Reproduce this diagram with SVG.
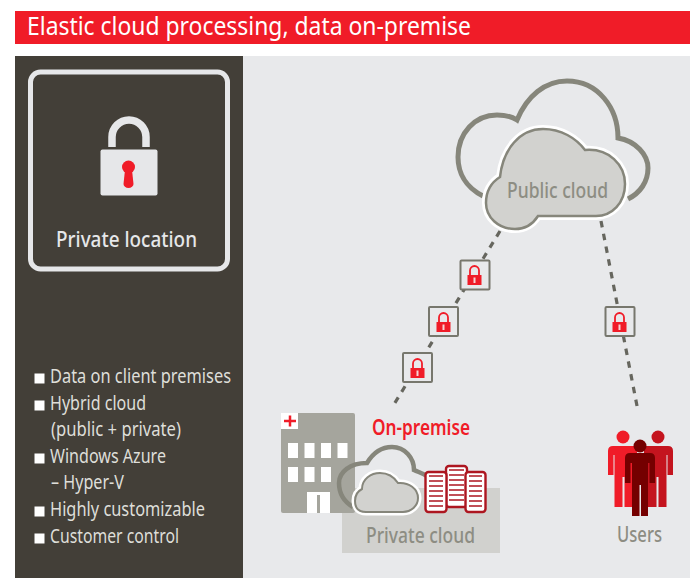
<svg xmlns="http://www.w3.org/2000/svg" width="690" height="578" viewBox="0 0 690 578">
<style>
text{font-family:"Noto Sans","Open Sans","Liberation Sans",sans-serif}
.li{font-size:19px;fill:#deded9}
.lab{font-size:22px;fill:#8d8d83;font-weight:500}
.dash{fill:none;stroke:#66665e;stroke-width:3.2;stroke-dasharray:6.500 6.500}
.box{fill:#e8e9eb;stroke:#77776d;stroke-width:2}
.red{fill:#f01c28}
.srv{fill:#fff;stroke:#ad1620;stroke-width:2.400}
.srvl{stroke:#ad1620;stroke-width:1.700}
.win{fill:#fff}
</style>
<defs>
<g id="lk">
<path d="M-4.500 0V-4.500a4.500 4.500 0 0 1 9 0V0" fill="none" stroke="#f01c28" stroke-width="1.800"/>
<rect x="-7" y="0" width="14" height="10" class="red"/>
<rect x="-1" y="2.500" width="2" height="5.500" fill="#f6d4d4"/>
</g>
</defs>
<rect width="690" height="578" fill="#fff"/>
<g id="title">
<rect x="15" y="11" width="675" height="33" fill="#f01c28"/>
<text x="27" y="35" font-size="26" fill="#fff" textLength="444" lengthAdjust="spacingAndGlyphs">Elastic cloud processing, data on-premise</text>
</g>
<rect x="243" y="56" width="447" height="522" fill="#e8e9eb"/>
<g id="panel">
<rect x="15" y="56" width="228" height="522" fill="#433f38"/>
<rect x="30.500" y="72" width="197" height="197" rx="10" fill="none" stroke="#e6e7e9" stroke-width="5"/>
<path d="M112 147V137a17 17 0 0 1 34 0V147" fill="none" stroke="#e6e7e9" stroke-width="7.500"/>
<rect x="100.500" y="149.500" width="57" height="46" rx="2" fill="#e6e7e9"/>
<circle cx="128.500" cy="167" r="6.500" class="red"/>
<path d="M125 170h7l1.500 14a5 4 0 0 1-10 0z" class="red"/>
<text x="56" y="247" font-size="22" font-weight="500" fill="#e6e7e9" textLength="141" lengthAdjust="spacingAndGlyphs">Private location</text>
</g>
<g id="list">
<g fill="#fff">
<rect x="34.500" y="373.500" width="10" height="10"/>
<rect x="34.500" y="400.500" width="10" height="10"/>
<rect x="34.500" y="453.500" width="10" height="10"/>
<rect x="34.500" y="506.500" width="10" height="10"/>
<rect x="34.500" y="533.500" width="10" height="10"/>
</g>
<text class="li" x="50" y="383" textLength="181" lengthAdjust="spacingAndGlyphs">Data on client premises</text>
<text class="li" x="50" y="410" textLength="96" lengthAdjust="spacingAndGlyphs">Hybrid cloud</text>
<text class="li" x="51" y="436" textLength="130" lengthAdjust="spacingAndGlyphs">(public + private)</text>
<text class="li" x="50" y="463" textLength="116" lengthAdjust="spacingAndGlyphs">Windows Azure</text>
<text class="li" x="51" y="489" textLength="73" lengthAdjust="spacingAndGlyphs">– Hyper-V</text>
<text class="li" x="50" y="516" textLength="155" lengthAdjust="spacingAndGlyphs">Highly customizable</text>
<text class="li" x="50" y="543" textLength="129" lengthAdjust="spacingAndGlyphs">Customer control</text>
</g>
<g id="connectors">
<path class="dash" d="M500 231L393 406"/>
<path class="dash" d="M601 221L638 411"/>
</g>
<g id="public-cloud">
<path d="M483 196C465 187 458 172 458 157C458 133 475 115 497 115C504 115 511 116 517 120C527 96 545 81 567 81C598 81 618 108 618 138C636 141 648 155 648 168C648 182 640 193 628 199" fill="none" stroke="#86867b" stroke-width="5"/>
<path d="M515 229C498 229 486 217 486 203C486 190 492 182 500 177C503 149 520 129 543 129C561 129 576 138 585 150C609 148 625 165 625 184C625 203 612 216 596 216H538C533 224 525 229 515 229Z" fill="#d2d2cf" stroke="#fff" stroke-width="8"/>
<path d="M515 229C498 229 486 217 486 203C486 190 492 182 500 177C503 149 520 129 543 129C561 129 576 138 585 150C609 148 625 165 625 184C625 203 612 216 596 216H538C533 224 525 229 515 229Z" fill="#d2d2cf" stroke="#86867b" stroke-width="2.500"/>
<text class="lab" x="507" y="198" textLength="101" lengthAdjust="spacingAndGlyphs">Public cloud</text>
</g>
<g id="lock-1"><rect class="box" x="460.500" y="260.500" width="29" height="29" rx="1"/><use href="#lk" x="474.500" y="275"/></g>
<g id="lock-2"><rect class="box" x="429" y="307" width="29" height="29" rx="1"/><use href="#lk" x="443.500" y="322"/></g>
<g id="lock-3"><rect class="box" x="403" y="353" width="29" height="29" rx="1"/><use href="#lk" x="417.500" y="368"/></g>
<g id="lock-4"><rect class="box" x="605.500" y="307" width="29" height="29" rx="1"/><use href="#lk" x="619.500" y="322"/></g>
<g id="on-premise">
<rect x="342" y="488" width="158" height="65" fill="#d1d1ce"/>
<rect x="281" y="413" width="74" height="100" rx="2" fill="#a5a59d"/>
<rect x="281" y="413" width="17" height="16" fill="#fff"/>
<path d="M284 421h12M290 415.500v11" stroke="#f01c28" stroke-width="2.500"/>
<rect class="win" x="288" y="443" width="10" height="15"/>
<rect class="win" x="304.500" y="443" width="10" height="15"/>
<rect class="win" x="321" y="443" width="10" height="15"/>
<rect class="win" x="337.500" y="443" width="10" height="15"/>
<rect class="win" x="288" y="467" width="10" height="15"/>
<rect class="win" x="304.500" y="467" width="10" height="15"/>
<rect class="win" x="321" y="467" width="10" height="15"/>
<rect class="win" x="307" y="492" width="23" height="21"/>
<rect x="317" y="495" width="3" height="18" fill="#a5a59d"/>
<path d="M353 507C343 501 339 492 339 483C339 472 350 463 367 463C373 453 382 447 392 447C405 447 414 458 414 470C418 472 422 473 427 476" fill="none" stroke="#86867b" stroke-width="4.500"/>
<path d="M366 512C358 512 355 507 355 501C355 495 358 491 362 489C362 479 371 473 380 473C388 473 394 477 398 483C409 482 418 489 418 498C418 506 411 512 403 512Z" fill="#d2d2cf" stroke="#fff" stroke-width="7"/>
<path d="M366 512C358 512 355 507 355 501C355 495 358 491 362 489C362 479 371 473 380 473C388 473 394 477 398 483C409 482 418 489 418 498C418 506 411 512 403 512Z" fill="#d2d2cf" stroke="#86867b" stroke-width="2"/>
<text class="red" x="372" y="435" font-size="21" font-weight="600" textLength="98" lengthAdjust="spacingAndGlyphs">On-premise</text>
<text class="lab" x="366" y="543" textLength="109" lengthAdjust="spacingAndGlyphs">Private cloud</text>
</g>
<g id="servers">
<rect class="srv" x="446" y="466" width="21" height="41" rx="3"/>
<rect class="srv" x="425.500" y="472" width="21" height="40" rx="3"/>
<rect class="srv" x="465.500" y="472" width="20" height="40" rx="3"/>
<path class="srvl" d="M429 476h14M429 481h14M429 486h14M429 491h14M429 496h14M429 501h14M429 506h14M449 470h15M449 475h15M449 480h15M449 485h15M449 490h15M449 495h15M449 500h15M469 476h13M469 481h13M469 486h13M469 491h13M469 496h13M469 501h13M469 506h13"/>
</g>
<g id="users">
<circle cx="623" cy="437" r="6.500" class="red"/>
<path d="M613 446H637V507H624.500V477H622.500V507H614.500V455H613.500V475H608V451Q608 446 613 446Z" class="red"/>
<circle cx="658" cy="437" r="6.500" fill="#c4141e"/>
<path d="M668 446H644V507H656.500V477H658.500V507H666.500V455H667.500V475H673V451Q673 446 668 446Z" fill="#c4141e"/>
<circle cx="640" cy="446" r="6.500" fill="#740000"/>
<path d="M630 453H650Q655 453 655 458V483H649.500V463H648V516H641V485H639.500V516H632V463H630.500V483H625V458Q625 453 630 453Z" fill="#740000"/>
<text class="lab" x="617" y="542" textLength="45" lengthAdjust="spacingAndGlyphs">Users</text>
</g>
</svg>
